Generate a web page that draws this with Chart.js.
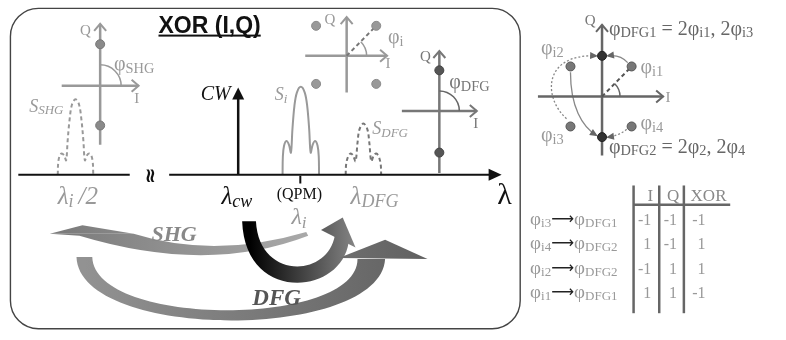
<!DOCTYPE html>
<html>
<head>
<meta charset="utf-8">
<script src="https://cdn.jsdelivr.net/npm/chart.js@4.4.1/dist/chart.umd.min.js"></script>
<style>
  html, body { margin: 0; padding: 0; background: #fff; }
  canvas { display: block; }
</style>
</head>
<body>
<canvas id="diagram" width="786" height="340"></canvas>
<script>
/* Diagram geometry, in the 786 x 340 frame (x right, y down) */
const lambdaAxisLeft = [[13, 175], [126, 175]];
const lambdaAxisRight = [[166, 175], [491, 175]];
const cwLine = [[236, 175], [236, 96]];
const qpmTick = [[299, 176], [299, 184]];

// spectra
const sshgPeak = [[53,175],[53.5,162],[55,155],[57,153],[59.5,155],[61.5,160],[63,140],[65,118],[67.5,102],[71,97],[74.5,102],[77,118],[79,140],[80.5,160],[82.5,155],[85,153],[87,155],[88.5,162],[89,175]];
const siPeak = [[281,175],[281.3,156],[282.5,145],[285,140],[287.5,144],[289.5,152],[291,128],[293,104],[295.5,90],[299.5,84],[303.5,90],[306,104],[308,128],[309.5,152],[311.5,144],[314,140],[316.5,145],[317.7,156],[318,175]];
const sdfgPeak = [[345,175],[345.5,164],[347.5,156],[350,153],[352.5,155],[355,161],[357,142],[359,128],[363,122],[367,128],[369,142],[371,161],[373.5,155],[376,153],[378.5,156],[380.5,164],[381,175]];

// constellations
const shgAxisI = [[57, 83], [135, 83]];
const shgAxisQ = [[96, 144], [96, 19]];
const shgDots = [[96, 40], [96, 124]];

const psiAxisI = [[304, 52], [387, 52]];
const psiAxisQ = [[346, 90], [346, 12]];
const psiDots = [[315, 21], [376, 21], [315, 81], [376, 81]];
const psiPhase = [[346, 52], [376, 21]];

const dfgAxisI = [[402, 109], [478, 109]];
const dfgAxisQ = [[440, 173], [440, 47]];
const dfgDots = [[440, 67], [440, 152]];

const mapAxisI = [[540, 94], [667, 94]];
const mapAxisQ = [[605, 155], [605, 20]];
const mapInputDots = [[635, 63], [573, 63], [573, 125], [635, 125]]; // i1 i2 i3 i4
const mapOutputDots = [[605, 52], [605, 136]];                       // DFG1 DFG2
const mapPhase = [[605, 94], [635, 63]];

// phase arcs: cx, cy, r, from deg, to deg
const phaseArcs = [[96, 83, 21, 0, 90], [346, 52, 20, 0, 45], [440, 109, 20, 0, 90], [605, 94, 18, 0, 45]];

// phase mapping curves: start, c1, c2, end, dotted
const mapCurves = [
  [[569, 117], [545, 95], [545, 50], [599, 52], true],
  [[573, 69], [573, 105], [585, 125], [599, 134], false],
  [[631, 59], [625, 52], [618, 51], [611, 52], false],
  [[630, 128], [624, 133], [618, 135], [611, 136], true]
];

// big process arrows
const shgArrowHead = [[45, 236], [78, 227], [130, 236]];
const shgArrowUpper = [[130, 236], [212, 262], [305, 234]];
const shgArrowLower = [[307, 238], [205, 278], [75, 238]];
const cwArrowOuter = [[240, 223], [243, 308], [340, 300], [348, 245]];
const cwArrowInner = [[334, 238], [326, 282], [257, 283], [254, 223]];
const cwArrowHead = [[320, 232], [342, 219], [355, 250]];
const dfgArrowOuter = [[72, 260], [75, 347], [380, 347], [385, 262]];
const dfgArrowInner = [[357, 262], [357, 333], [90, 333], [88, 260]];
const dfgArrowHead = [[338, 261], [385, 242], [428, 262]];

// truth table
const tableHeader = ['I', 'Q', 'XOR'];
const tableInputs = ['i3', 'i4', 'i2', 'i1'];
const tableOutputs = ['DFG1', 'DFG2', 'DFG2', 'DFG1'];
const colI = [-1, 1, -1, 1];
const colQ = [-1, -1, 1, 1];
const colXor = [-1, 1, 1, -1];
const rowY = [227, 252, 277, 302];

// labels: x, baseline y, size, colour, align, parts (m normal, s sub, i italic, is italic sub)
const labels = [
  [81, 30, 15, '#999', 'center', [['Q', 'm']]],
  [133, 101, 15, '#999', 'center', [['I', 'm']]],
  [110, 67, 20, '#999', 'left', [['φ', 'm'], ['SHG', 's']]],
  [24, 110, 18, '#999', 'left', [['S', 'i'], ['SHG', 'is']]],
  [198, 98, 20, '#111', 'left', [['CW', 'i']]],
  [273, 98, 18, '#999', 'left', [['S', 'i'], ['i', 'is']]],
  [329, 19, 15, '#999', 'center', [['Q', 'm']]],
  [388, 39, 20, '#999', 'left', [['φ', 'm'], ['i', 's']]],
  [388, 65, 15, '#999', 'center', [['I', 'm']]],
  [426, 57, 15, '#777', 'center', [['Q', 'm']]],
  [450, 85, 20, '#777', 'left', [['φ', 'm'], ['DFG', 's']]],
  [477, 127, 15, '#777', 'center', [['I', 'm']]],
  [372, 133, 18, '#999', 'left', [['S', 'i'], ['DFG', 'is']]],
  [53, 205, 25, '#999', 'left', [['λ', 'i'], ['i', 'is'], ['\u2009/2', 'i']]],
  [219, 205, 25, '#111', 'left', [['λ', 'i'], ['cw', 'is']]],
  [298, 200, 16, '#111', 'center', [['(QPM)', 'm']]],
  [290, 226, 24, '#999', 'left', [['λ', 'i'], ['i', 'is']]],
  [350, 205, 25, '#999', 'left', [['λ', 'i'], ['DFG', 'is']]],
  [506, 205, 30, '#111', 'center', [['λ', 'm']]],
  [593, 20, 15, '#777', 'center', [['Q', 'm']]],
  [612, 30, 20, '#666', 'left', [['φ', 'm'], ['DFG1', 's'], [' = 2φ', 'm'], ['i1', 's'], [', 2φ', 'm'], ['i3', 's']]],
  [543, 50, 20, '#999', 'left', [['φ', 'm'], ['i2', 's']]],
  [644, 70, 20, '#999', 'left', [['φ', 'm'], ['i1', 's']]],
  [672, 100, 15, '#999', 'center', [['I', 'm']]],
  [543, 140, 20, '#999', 'left', [['φ', 'm'], ['i3', 's']]],
  [644, 128, 20, '#999', 'left', [['φ', 'm'], ['i4', 's']]],
  [612, 152, 20, '#666', 'left', [['φ', 'm'], ['DFG2', 's'], [' = 2φ', 'm'], ['2', 's'], [', 2φ', 'm'], ['4', 's']]]
];

const SERIF = '"Liberation Serif", "Times New Roman", serif';
const SANS = '"Liberation Sans", Arial, sans-serif';

/* Helpers */
const pts = (a) => a.map(([x, y]) => ({ x, y }));
const lineSet = (a, color, width, dash, tension) => ({
  data: pts(a), showLine: true, borderColor: color, borderWidth: width,
  borderDash: dash || [], pointRadius: 0, tension: tension || 0, fill: false
});
const dotSet = (a, fill, stroke) => ({
  data: pts(a), showLine: false, pointRadius: 4.5, backgroundColor: fill, borderColor: stroke, borderWidth: 1
});

function drawRich(ctx, X, Y, size, color, align, parts) {
  const spec = (p) => {
    const sub = p[1] === 's' || p[1] === 'is';
    const it = p[1] === 'i' || p[1] === 'is';
    return { font: (it ? 'italic ' : '') + (sub ? size * 0.72 : size).toFixed(1) + 'px ' + SERIF, dy: sub ? size * 0.14 : 0 };
  };
  let w = 0;
  parts.forEach(p => { ctx.font = spec(p).font; w += ctx.measureText(p[0]).width; });
  let cx = align === 'center' ? X - w / 2 : X;
  ctx.textAlign = 'left';
  ctx.textBaseline = 'alphabetic';
  ctx.fillStyle = color;
  parts.forEach(p => {
    const s = spec(p);
    ctx.font = s.font;
    ctx.fillText(p[0], cx, Y + s.dy);
    cx += ctx.measureText(p[0]).width;
  });
}

const diagramPlugin = {
  id: 'diagram',
  beforeDatasetsDraw(chart) {
    const ctx = chart.ctx;
    const xs = chart.scales.x, ys = chart.scales.y;
    const P = ([x, y]) => [xs.getPixelForValue(x), ys.getPixelForValue(y)];
    ctx.save();

    // frame
    const [bx0, by0] = P([5, 3]), [bx1, by1] = P([522, 334]);
    ctx.beginPath();
    ctx.roundRect(bx0, by0, bx1 - bx0, by1 - by0, 28);
    ctx.strokeStyle = '#444';
    ctx.lineWidth = 1.4;
    ctx.stroke();

    const poly = (a) => { ctx.moveTo(...P(a[0])); a.slice(1).forEach(p => ctx.lineTo(...P(p))); ctx.closePath(); };
    const grad = (x0, c0, x1, c1) => {
      const g = ctx.createLinearGradient(P([x0, 0])[0], 0, P([x1, 0])[0], 0);
      g.addColorStop(0, c0); g.addColorStop(1, c1); return g;
    };

    // SHG arrow
    ctx.fillStyle = grad(60, '#7c7c7c', 300, '#a8a8a8');
    ctx.beginPath(); poly(shgArrowHead); ctx.fill();
    ctx.beginPath();
    ctx.moveTo(...P(shgArrowUpper[0]));
    ctx.quadraticCurveTo(...P(shgArrowUpper[1]), ...P(shgArrowUpper[2]));
    ctx.lineTo(...P(shgArrowLower[0]));
    ctx.quadraticCurveTo(...P(shgArrowLower[1]), ...P(shgArrowLower[2]));
    ctx.lineTo(...P(shgArrowHead[0]));
    ctx.closePath(); ctx.fill();

    // CW pump arrow
    ctx.fillStyle = grad(248, '#000', 355, '#858585');
    ctx.beginPath();
    ctx.moveTo(...P(cwArrowOuter[0]));
    ctx.bezierCurveTo(...P(cwArrowOuter[1]), ...P(cwArrowOuter[2]), ...P(cwArrowOuter[3]));
    ctx.lineTo(...P(cwArrowInner[0]));
    ctx.bezierCurveTo(...P(cwArrowInner[1]), ...P(cwArrowInner[2]), ...P(cwArrowInner[3]));
    ctx.closePath(); ctx.fill();
    ctx.beginPath(); poly(cwArrowHead); ctx.fill();

    // DFG arrow
    ctx.fillStyle = grad(80, '#929292', 420, '#626262');
    ctx.beginPath();
    ctx.moveTo(...P(dfgArrowOuter[0]));
    ctx.bezierCurveTo(...P(dfgArrowOuter[1]), ...P(dfgArrowOuter[2]), ...P(dfgArrowOuter[3]));
    ctx.lineTo(...P(dfgArrowInner[0]));
    ctx.bezierCurveTo(...P(dfgArrowInner[1]), ...P(dfgArrowInner[2]), ...P(dfgArrowInner[3]));
    ctx.closePath(); ctx.fill();
    ctx.beginPath(); poly(dfgArrowHead); ctx.fill();

    // phase mapping curves
    mapCurves.forEach(([a, b, c, d, dotted]) => {
      ctx.beginPath();
      ctx.moveTo(...P(a));
      ctx.bezierCurveTo(...P(b), ...P(c), ...P(d));
      ctx.strokeStyle = '#888';
      ctx.lineWidth = 1.3;
      ctx.setLineDash(dotted ? [2, 2] : []);
      ctx.stroke();
      ctx.setLineDash([]);
      const [x1, y1] = P(c), [x2, y2] = P(d);
      const L = Math.hypot(x2 - x1, y2 - y1), ux = (x2 - x1) / L, uy = (y2 - y1) / L;
      ctx.beginPath();
      ctx.moveTo(x2 + ux * 2, y2 + uy * 2);
      ctx.lineTo(x2 - ux * 6 - uy * 3.5, y2 - uy * 6 + ux * 3.5);
      ctx.lineTo(x2 - ux * 6 + uy * 3.5, y2 - uy * 6 - ux * 3.5);
      ctx.closePath();
      ctx.fillStyle = '#666';
      ctx.fill();
    });
    ctx.restore();
  },
  afterDatasetsDraw(chart) {
    const ctx = chart.ctx;
    const xs = chart.scales.x, ys = chart.scales.y;
    const P = ([x, y]) => [xs.getPixelForValue(x), ys.getPixelForValue(y)];
    ctx.save();

    // filled arrow heads: CW line and wavelength axis
    ctx.fillStyle = '#111';
    const [cx, cy] = P(cwLine[1]);
    ctx.beginPath(); ctx.moveTo(cx, cy - 11); ctx.lineTo(cx - 6, cy + 1); ctx.lineTo(cx + 6, cy + 1); ctx.closePath(); ctx.fill();
    const [ax, ay] = P(lambdaAxisRight[1]);
    ctx.beginPath(); ctx.moveTo(ax + 12, ay); ctx.lineTo(ax - 1, ay - 6); ctx.lineTo(ax - 1, ay + 6); ctx.closePath(); ctx.fill();

    // open chevrons on constellation axes
    const chevrons = [[shgAxisI, shgAxisQ, '#999'], [psiAxisI, psiAxisQ, '#999'], [dfgAxisI, dfgAxisQ, '#777'], [mapAxisI, mapAxisQ, '#666']];
    ctx.lineWidth = 2;
    chevrons.forEach(([ai, aq, col]) => {
      ctx.strokeStyle = col;
      const [ix, iy] = P(ai[1]);
      ctx.beginPath(); ctx.moveTo(ix - 7, iy - 6); ctx.lineTo(ix, iy); ctx.lineTo(ix - 7, iy + 6); ctx.stroke();
      const [qx, qy] = P(aq[1]);
      ctx.beginPath(); ctx.moveTo(qx - 6, qy + 7); ctx.lineTo(qx, qy); ctx.lineTo(qx + 6, qy + 7); ctx.stroke();
    });

    // phase arcs
    ctx.lineWidth = 1.5;
    phaseArcs.forEach(([x, y, r, a0, a1], k) => {
      const [px, py] = P([x, y]);
      ctx.strokeStyle = k >= 2 ? '#666' : '#999';
      ctx.beginPath(); ctx.arc(px, py, r, -a1 * Math.PI / 180, -a0 * Math.PI / 180); ctx.stroke();
    });

    // title
    const [tx, ty] = P([207, 28]);
    ctx.font = 'bold 23px ' + SANS;
    ctx.fillStyle = '#111';
    ctx.textAlign = 'center';
    ctx.textBaseline = 'alphabetic';
    ctx.fillText('XOR (I,Q)', tx, ty);
    const tw = ctx.measureText('XOR (I,Q)').width;
    ctx.fillRect(tx - tw / 2, ty + 2, tw, 2);

    // break mark on wavelength axis
    const [sx, sy] = P([146, 176]);
    ctx.save();
    ctx.translate(sx, sy);
    ctx.rotate(Math.PI / 2);
    ctx.font = 'bold 20px "DejaVu Sans", sans-serif';
    ctx.textAlign = 'center';
    ctx.textBaseline = 'middle';
    ctx.fillStyle = '#111';
    ctx.fillText('≈', 0, 0);
    ctx.restore();

    // process labels
    ctx.textAlign = 'center';
    ctx.font = 'bold italic 22px ' + SERIF;
    ctx.fillStyle = '#888';
    ctx.fillText('SHG', ...P([171, 243]));
    ctx.font = 'bold italic 23px ' + SERIF;
    ctx.fillStyle = '#555';
    ctx.fillText('DFG', ...P([275, 309]));

    // labels
    labels.forEach(([x, y, size, col, align, parts]) => {
      const [X, Y] = P([x, y]);
      drawRich(ctx, X, Y, size, col, align, parts);
    });

    // truth table
    ctx.strokeStyle = '#666';
    ctx.lineWidth = 2.5;
    [637, 663, 688].forEach(x => {
      ctx.beginPath(); ctx.moveTo(...P([x, 186])); ctx.lineTo(...P([x, 318])); ctx.stroke();
    });
    ctx.beginPath(); ctx.moveTo(...P([637, 206])); ctx.lineTo(...P([735, 206])); ctx.stroke();

    const colX = [654, 677, 713];
    tableHeader.forEach((h, k) => {
      const [X, Y] = P([colX[k], 202]);
      drawRich(ctx, X, Y, 17, '#888', 'center', [[h, 'm']]);
    });
    const valX = [655, 681, 710];
    [colI, colQ, colXor].forEach((col, k) => {
      col.forEach((v, r) => {
        const [X, Y] = P([valX[k], rowY[r]]);
        ctx.font = '16px ' + SERIF;
        ctx.fillStyle = '#999';
        ctx.textAlign = 'right';
        ctx.fillText(String(v), X, Y);
      });
    });
    tableInputs.forEach((inp, r) => {
      const [X, Y] = P([532, rowY[r]]);
      let x0 = X;
      const seg = (t, font, col, dy) => { ctx.font = font; ctx.fillStyle = col; ctx.textAlign = 'left'; ctx.fillText(t, x0, Y + dy); x0 += ctx.measureText(t).width; };
      seg('φ', '19px ' + SERIF, '#999', 0);
      seg(inp, '13px ' + SERIF, '#999', 2);
      seg('⟶', '16px "DejaVu Sans", sans-serif', '#222', -1);
      seg('φ', '19px ' + SERIF, '#999', 0);
      seg(tableOutputs[r], '13px ' + SERIF, '#999', 2);
    });
    ctx.restore();
  }
};

const datasets = [
  dotSet(mapOutputDots, '#333', '#222'),
  dotSet(mapInputDots, '#777', '#555'),
  dotSet(dfgDots, '#555', '#444'),
  dotSet(psiDots, '#999', '#8a8a8a'),
  dotSet(shgDots, '#8a8a8a', '#777'),
  lineSet(mapPhase, '#555', 2, [4, 3]),
  lineSet(psiPhase, '#777', 2, [4, 3]),
  lineSet(lambdaAxisLeft, '#111', 2),
  lineSet(lambdaAxisRight, '#111', 2),
  lineSet(cwLine, '#111', 2.5),
  lineSet(qpmTick, '#111', 2),
  lineSet(siPeak, '#999', 2, [], 0.35),
  lineSet(sdfgPeak, '#777', 2, [4, 3], 0.35),
  lineSet(sshgPeak, '#999', 2, [4, 3], 0.35),
  lineSet(shgAxisI, '#999', 2.5),
  lineSet(shgAxisQ, '#999', 2.5),
  lineSet(psiAxisI, '#999', 2.5),
  lineSet(psiAxisQ, '#999', 2.5),
  lineSet(dfgAxisI, '#777', 2.5),
  lineSet(dfgAxisQ, '#777', 2.5),
  lineSet(mapAxisI, '#666', 2.5),
  lineSet(mapAxisQ, '#666', 2.5)
];

new Chart(document.getElementById('diagram'), {
  type: 'scatter',
  data: { datasets },
  options: {
    responsive: false,
    animation: false,
    devicePixelRatio: 1,
    layout: { padding: 0 },
    plugins: { legend: { display: false }, tooltip: { enabled: false } },
    scales: {
      x: { type: 'linear', min: 0, max: 786, display: false },
      y: { type: 'linear', min: 0, max: 340, reverse: true, display: false }
    }
  },
  plugins: [diagramPlugin]
});
</script>
</body>
</html>
